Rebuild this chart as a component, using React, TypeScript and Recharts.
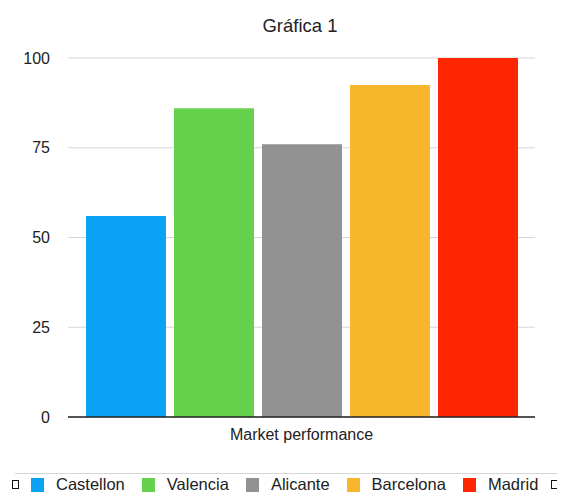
import React from "react";
import { Bar, BarChart, CartesianGrid, Legend, XAxis, YAxis } from "recharts";

// data
const category = "Market performance";
const cities = ["Castellon", "Valencia", "Alicante", "Barcelona", "Madrid"];
const values = [56, 86, 76, 92.5, 100];
const colors = ["#0aa3f6", "#66d14d", "#929292", "#f8b62d", "#fe2600"];
const yTicks = [0, 25, 50, 75, 100];

const font = "'Liberation Sans', Arial, Helvetica, sans-serif";
const textColor = "#222";

const row: Record<string, string | number> = { name: category };
cities.forEach((c, i) => {
  row[c] = values[i];
});
const data = [row];

function ChartLegend() {
  return (
    <div
      style={{
        position: "relative",
        width: 569,
        height: 23,
        fontFamily: font,
        fontSize: 16.5,
        color: textColor,
      }}
    >
      <div style={{ position: "absolute", left: 15, right: 12, top: 3, borderTop: "1px solid #d6d6d6" }} />
      <div style={{ display: "flex", alignItems: "center", height: 23, paddingTop: 6, boxSizing: "border-box" }}>
        <span style={{ width: 5, height: 7, border: "1px solid #111", marginLeft: 12, marginRight: 12 }} />
        {cities.map((c, i) => (
          <span key={c} style={{ display: "flex", alignItems: "center", marginRight: i < cities.length - 1 ? 17 : 13 }}>
            <span style={{ width: 13, height: 14, background: colors[i], marginRight: 12 }} />
            <span>{c}</span>
          </span>
        ))}
        <span style={{ width: 5, height: 7, borderTop: "1px solid #111", borderBottom: "1px solid #111", borderLeft: "1px solid #111" }} />
      </div>
    </div>
  );
}

export default function App() {
  return (
    <div style={{ position: "absolute", left: 0, top: 0, width: 569, height: 493, background: "#fff" }}>
      <div
        style={{
          position: "absolute",
          left: 0,
          width: 600,
          top: 15,
          textAlign: "center",
          fontFamily: font,
          fontSize: 18.5,
          color: textColor,
        }}
      >
        Gráfica 1
      </div>
      <BarChart
        width={569}
        height={493}
        data={data}
        margin={{ top: 58, right: 34, bottom: 23, left: 0 }}
        barSize={80}
        barGap={8}
      >
        <CartesianGrid vertical={false} stroke="#d6d6d6" />
        <XAxis
          dataKey="name"
          height={30}
          tickLine={false}
          tickSize={0}
          tickMargin={12}
          axisLine={{ stroke: "#222", strokeWidth: 1.5 }}
          tick={{ fill: textColor, fontSize: 16, fontFamily: font }}
        />
        <YAxis
          domain={[0, 100]}
          ticks={yTicks}
          width={68}
          tickLine={false}
          axisLine={false}
          tickSize={0}
          tickMargin={18}
          tick={{ fill: textColor, fontSize: 16, fontFamily: font }}
        />
        <Legend
          verticalAlign="bottom"
          content={() => <ChartLegend />}
          wrapperStyle={{ left: 0, top: 470, width: 569, height: 23 }}
        />
        {cities.map((c, i) => (
          <Bar key={c} dataKey={c} fill={colors[i]} isAnimationActive={false} />
        ))}
      </BarChart>
    </div>
  );
}
